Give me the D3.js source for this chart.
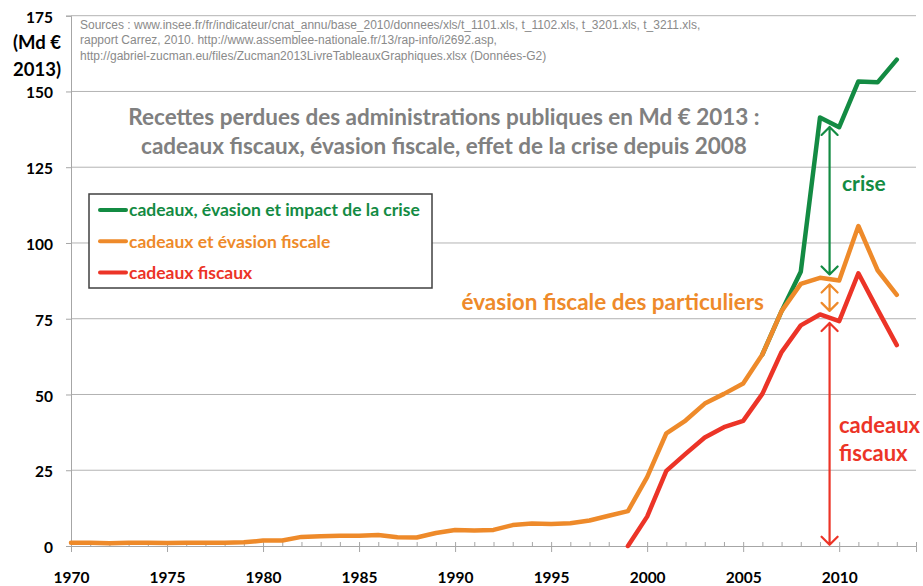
<!DOCTYPE html>
<html>
<head>
<meta charset="utf-8">
<script src="https://cdn.jsdelivr.net/npm/d3@7"></script>
<style>
body { margin: 0; background: #fff; }
svg { display: block; }
</style>
</head>
<body>
<svg width="923" height="586"></svg>
<script>
// data (Md € 2013)
var years = d3.range(1970, 2014);
var evasion = [1.1, 1.1, 0.9, 1.1, 1.1, 1.0, 1.1, 1.1, 1.1, 1.2,
	1.8, 1.8, 3.0, 3.2, 3.4, 3.4, 3.6, 2.9, 2.8, 4.3,
	5.3, 5.1, 5.3, 6.9, 7.4, 7.3, 7.5, 8.4, 10.0, 11.5,
	22.7, 37.2, 41.4, 47.0, 50.2, 53.6, 63.2, 77.5, 86.5, 88.5,
	87.6, 105.6, 91.0, 82.9];
var criseYears = d3.range(2006, 2014);
var crise = [63.2, 77.5, 90.5, 141.4, 138.2, 153.3, 153.0, 160.5];
var cadeauxYears = d3.range(1999, 2014);
var cadeaux = [0, 9.7, 24.8, 30.4, 35.8, 39.2, 41.3, 50.2, 64.0, 72.8, 76.4, 74.2, 90.0, 78.0, 66.3];

var yTicks = [0, 25, 50, 75, 100, 125, 150, 175];
var xTicks = d3.range(1970, 2011, 5);
var legendLabels = ["cadeaux, évasion et impact de la crise", "cadeaux et évasion fiscale", "cadeaux fiscaux"];
var sources = [
	"Sources : www.insee.fr/fr/indicateur/cnat_annu/base_2010/donnees/xls/t_1101.xls, t_1102.xls, t_3201.xls, t_3211.xls,",
	"rapport Carrez, 2010. http://www.assemblee-nationale.fr/13/rap-info/i2692.asp,",
	"http://gabriel-zucman.eu/files/Zucman2013LivreTableauxGraphiques.xlsx (Données-G2)"
];
var title = ["Recettes perdues des administrations publiques en Md € 2013 :",
	"cadeaux fiscaux, évasion fiscale, effet de la crise depuis 2008"];
// double arrows at mid 2009/2010: [top, bottom] in Md €
var arrowYear = 2009.5;
var arrows = [[138.3, 89.6], [86.3, 77.6], [73.6, 0.4]];

var green = "#138b43", orange = "#ee8a2a", red = "#ec3427";
var gridColor = "#b3b3b3";
var bold = "Lato, 'Open Sans', sans-serif";

var svg = d3.select("svg");
var x = d3.scaleLinear().domain([1970, 2014]).range([71, 916]);
var y = d3.scaleLinear().domain([0, 175]).range([546, 15.7]);

function label(sel, size, color) {
	return sel.style("font-family", bold).style("font-weight", "bold")
		.style("font-size", size + "px").attr("fill", color || "#000");
}

// grid
svg.append("g").selectAll("line")
	.data(yTicks.slice(1))
	.enter().append("line")
		.attr("x1", x(1970)).attr("x2", x(2014))
		.attr("y1", function(d) { return y(d); })
		.attr("y2", function(d) { return y(d); })
		.attr("stroke", gridColor).attr("stroke-width", 1);

// y axis
var yAxis = svg.append("g")
	.attr("transform", "translate(" + x(1970) + ",0)")
	.call(d3.axisLeft(y).tickValues(yTicks).tickSize(5).tickPadding(13));
label(yAxis.selectAll("text"), 15.5).attr("dy", "0.42em");

// x axis: minor ticks every year up, major every 5 years down
svg.append("g")
	.attr("transform", "translate(0," + y(0) + ")")
	.call(d3.axisBottom(x).tickValues(d3.range(1971, 2015)).tickSize(-4).tickFormat(""));
var xAxis = svg.append("g")
	.attr("transform", "translate(0," + y(0) + ")")
	.call(d3.axisBottom(x).tickValues(xTicks).tickSize(6).tickPadding(20).tickFormat(d3.format("d")));
label(xAxis.selectAll("text"), 15.5);
svg.selectAll(".domain").attr("stroke", "#a6a6a6");
svg.selectAll(".tick line").attr("stroke", "#a6a6a6");

// unit label under 175
label(svg.append("text"), 18.5).attr("x", 37).attr("y", 49).attr("text-anchor", "middle").text("(Md €");
label(svg.append("text"), 18.5).attr("x", 37).attr("y", 76).attr("text-anchor", "middle").text("2013)");

// sources
svg.append("g").selectAll("text")
	.data(sources)
	.enter().append("text")
		.attr("x", 80)
		.attr("y", function(d, i) { return 29 + i * 15.3; })
		.style("font-family", "'Liberation Sans', Arial, sans-serif")
		.style("font-size", "12px")
		.attr("fill", "#8a8a8a")
		.text(function(d) { return d; });

// title
label(svg.append("g").selectAll("text")
	.data(title)
	.enter().append("text"), 22.5, "#808080")
		.attr("x", 444)
		.attr("y", function(d, i) { return 125 + i * 29; })
		.attr("text-anchor", "middle")
		.text(function(d) { return d; });

// series
var line = d3.line()
	.x(function(d) { return x(d[0]); })
	.y(function(d) { return y(d[1]); });

var series = [
	{ color: green, pts: d3.zip(criseYears, crise) },
	{ color: orange, pts: d3.zip(years, evasion) },
	{ color: red, pts: d3.zip(cadeauxYears, cadeaux) }
];
svg.append("g").selectAll("path")
	.data(series)
	.enter().append("path")
		.attr("d", function(d) { return line(d.pts); })
		.attr("fill", "none")
		.attr("stroke", function(d) { return d.color; })
		.attr("stroke-width", 4.5)
		.attr("stroke-linejoin", "round")
		.attr("stroke-linecap", "round");

// double arrows
var arrowColors = [green, orange, red];
var ax = x(arrowYear);
svg.append("g").selectAll("path")
	.data(arrows)
	.enter().append("path")
		.attr("d", function(d) {
			var t = y(d[0]), b = y(d[1]);
			return "M" + ax + "," + t + "L" + ax + "," + b +
				"M" + (ax - 8) + "," + (t + 8) + "L" + ax + "," + t + "L" + (ax + 8) + "," + (t + 8) +
				"M" + (ax - 8) + "," + (b - 8) + "L" + ax + "," + b + "L" + (ax + 8) + "," + (b - 8);
		})
		.attr("fill", "none")
		.attr("stroke", function(d, i) { return arrowColors[i]; })
		.attr("stroke-width", 2.2)
		.attr("stroke-linecap", "round")
		.attr("stroke-linejoin", "round");

// annotations
label(svg.append("text"), 21, green).attr("x", 842).attr("y", 191).text("crise");
label(svg.append("text"), 22.5, orange).attr("x", 764).attr("y", 310).attr("text-anchor", "end").text("évasion fiscale des particuliers");
label(svg.append("text"), 22, red).attr("x", 839).attr("y", 433).text("cadeaux");
label(svg.append("text"), 22, red).attr("x", 839).attr("y", 461).text("fiscaux");

// legend
var legend = svg.append("g");
legend.append("rect")
	.attr("x", 89).attr("y", 194).attr("width", 343).attr("height", 94)
	.attr("fill", "#fff").attr("stroke", "#404040").attr("stroke-width", 1.5);
var item = legend.selectAll("g.item")
	.data(legendLabels)
	.enter().append("g")
		.attr("class", "item")
		.attr("transform", function(d, i) { return "translate(0," + (210 + i * 31.3) + ")"; });
item.append("line")
	.attr("x1", 100).attr("x2", 126)
	.attr("stroke", function(d, i) { return arrowColors[i]; })
	.attr("stroke-width", 4).attr("stroke-linecap", "round");
label(item.append("text"), 17.5)
	.attr("x", 129).attr("dy", "0.36em")
	.attr("fill", function(d, i) { return arrowColors[i]; })
	.text(function(d) { return d; });
</script>
</body>
</html>
